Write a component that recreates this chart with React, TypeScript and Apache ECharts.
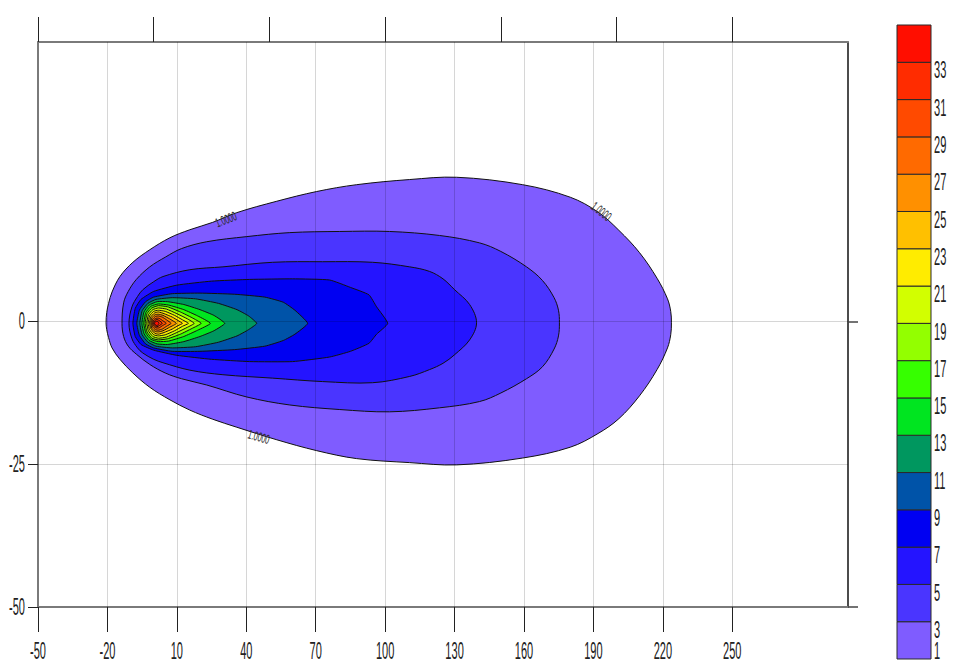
import React, { useEffect, useRef } from "react";
import * as echarts from "echarts";

// ---- axis / tick values ----
const xTickValues = [-50, -20, 10, 40, 70, 100, 130, 160, 190, 220, 250];
const topTickValues = [-50, 0, 50, 100, 150, 200, 250];
const yTickValues = [-50, -25, 0];
const rightTickValues = [-50, 0];
const xGridValues = [-20, 10, 40, 70, 100, 130, 160, 190, 220, 250];
const yGridValues = [-25, 0];

// ---- contour levels and band colours ----
const levels = [1, 3, 5, 7, 9, 11, 13, 15, 17, 19, 21, 23, 25, 27, 29, 31, 33];
const bandColors = [
  "#7f5cff", "#4a35ff", "#2414ff", "#0000f2", "#0053a8", "#00975f", "#00e520",
  "#36ff00", "#93ff00", "#d2ff00", "#ffec00", "#ffc000", "#ff9000", "#ff6a00",
  "#ff4a00", "#ff2c00", "#ff0e00",
];
const colorbarLabels = [1, 3, 5, 7, 9, 11, 13, 15, 17, 19, 21, 23, 25, 27, 29, 31, 33];

// ---- contour outlines: [x, upper y, lower y] ----
const contour01 = [
  [-20.6, -0.2, -0.2], [-20.3, 1.6, -1.4], [-19.5, 3.2, -2.8], [-18.0, 5.2, -4.6],
  [-14.6, 7.9, -6.6], [-9.0, 10.4, -9.0], [-1.7, 12.6, -11.5], [7.0, 14.7, -13.7],
  [15.6, 16.1, -15.5], [25.5, 17.4, -17.1], [35.9, 19.1, -18.5], [53.2, 21.1, -20.7],
  [70.4, 22.8, -22.6], [87.7, 24.0, -24.0], [110.6, 24.9, -24.7], [130.9, 25.3, -25.1],
  [159.4, 24.0, -23.9], [180.0, 21.8, -22.0], [192.0, 19.2, -19.6], [201.0, 16.0, -17.0],
  [209.9, 12.1, -13.0], [217.5, 7.6, -8.4], [222.0, 4.0, -4.6], [223.4, 1.8, -2.3],
  [223.7, -0.2, -0.2],
];
const contour03 = [
  [-13.7, -0.3, -0.3], [-13.0, 3.3, -2.6], [-11.0, 5.3, -4.3], [-7.5, 7.4, -5.7],
  [-1.7, 9.6, -7.5], [5.0, 11.3, -9.0], [12.0, 12.8, -10.0], [22.9, 14.0, -11.1],
  [40.2, 14.9, -13.2], [58.8, 15.6, -14.6], [80.4, 15.8, -15.4], [101.9, 15.8, -15.8],
  [123.5, 15.1, -15.1], [140.8, 13.8, -14.0], [150.0, 12.3, -12.5], [161.1, 9.6, -10.0],
  [168.0, 7.2, -7.9], [173.0, 4.2, -4.8], [174.9, 2.0, -2.5], [175.3, -0.2, -0.2],
];
const contour05 = [
  [-10.7, -0.3, -0.3], [-9.4, 2.6, -3.0], [-7.0, 4.4, -4.6], [-4.7, 5.6, -5.5],
  [0.0, 7.0, -6.6], [4.0, 7.9, -7.2], [15.6, 9.1, -8.5], [29.9, 9.6, -9.3],
  [51.4, 10.4, -9.9], [73.0, 10.5, -10.5], [94.6, 10.4, -10.7], [110.6, 9.6, -9.6],
  [119.2, 8.8, -8.4], [125.0, 7.5, -7.3], [130.0, 5.6, -5.8], [136.5, 3.0, -3.2],
  [139.5, -0.2, -0.2],
];
const contour07 = [
  [-9.0, -0.3, -0.3], [-8.0, 2.3, -2.6], [-5.5, 3.9, -4.0], [0.0, 5.3, -5.0],
  [10.0, 6.4, -5.9], [25.0, 7.1, -6.6], [41.5, 7.4, -7.0], [60.0, 7.5, -7.0],
  [76.0, 7.3, -6.2], [85.0, 6.0, -5.2], [93.0, 4.7, -3.8], [96.3, 2.6, -2.2],
  [101.1, -0.3, -0.3],
];
const contour09 = [
  [-7.3, -0.3, -0.3], [-6.2, 2.0, -2.4], [-3.5, 3.5, -3.9], [0.0, 4.3, -4.6],
  [8.0, 4.9, -5.2], [20.0, 5.0, -5.2], [35.0, 4.8, -4.9], [48.0, 4.3, -4.3],
  [56.0, 3.4, -3.3], [61.0, 2.0, -2.2], [66.5, -0.3, -0.3],
];
const contour11 = [
  [-6.0, -0.3, -0.3], [-5.0, 1.9, -2.3], [-2.5, 3.2, -3.6], [1.0, 3.9, -4.3],
  [8.0, 4.2, -4.6], [18.0, 4.0, -4.4], [28.0, 3.2, -3.6], [36.0, 2.1, -2.5],
  [41.0, 1.0, -1.4], [44.5, -0.3, -0.3],
];
const contour13 = [
  [-5.1, -0.3, -0.3], [-4.2, 1.7, -2.1], [-2.0, 2.9, -3.3], [1.5, 3.5, -3.9],
  [6.0, 3.5, -4.0], [13.0, 3.0, -3.5], [20.0, 2.1, -2.6], [26.0, 1.1, -1.6],
  [30.7, -0.3, -0.3],
];
const contour15 = [
  [-4.3, -0.3, -0.3], [-3.4, 1.6, -2.0], [-1.2, 2.7, -3.1], [2.0, 3.1, -3.5],
  [6.5, 2.9, -3.4], [13.0, 2.1, -2.6], [19.0, 1.0, -1.5], [24.5, -0.3, -0.3],
];
const contour17 = [
  [-3.7, -0.3, -0.3], [-2.9, 1.4, -1.8], [-0.8, 2.4, -2.9], [2.0, 2.8, -3.2],
  [6.0, 2.6, -3.0], [11.5, 1.7, -2.2], [16.5, 0.7, -1.2], [20.5, -0.3, -0.3],
];
const contour19 = [
  [-3.0, -0.3, -0.3], [-2.3, 1.2, -1.6], [-0.4, 2.1, -2.6], [2.0, 2.4, -2.9],
  [5.5, 2.2, -2.7], [10.0, 1.4, -1.9], [14.5, 0.5, -1.0], [17.5, -0.3, -0.3],
];
const contour21 = [
  [-2.4, -0.3, -0.3], [-1.8, 1.0, -1.4], [0.0, 1.8, -2.3], [2.0, 2.0, -2.5],
  [5.0, 1.8, -2.3], [9.0, 1.1, -1.6], [12.5, 0.3, -0.8], [15.0, -0.3, -0.3],
];
const contour23 = [
  [-1.8, -0.3, -0.3], [-1.3, 0.8, -1.2], [0.3, 1.5, -2.0], [2.0, 1.7, -2.2],
  [4.5, 1.4, -1.9], [8.0, 0.8, -1.3], [10.5, 0.2, -0.7], [12.4, -0.3, -0.3],
];
const contour25 = [
  [-1.3, -0.3, -0.3], [-0.9, 0.6, -1.1], [0.5, 1.2, -1.7], [2.0, 1.3, -1.8],
  [4.0, 1.1, -1.6], [6.8, 0.5, -1.0], [9.8, -0.3, -0.3],
];
const contour27 = [
  [-0.9, -0.3, -0.3], [-0.5, 0.4, -0.9], [0.7, 0.9, -1.4], [2.0, 1.0, -1.5],
  [3.7, 0.8, -1.3], [5.6, 0.3, -0.8], [7.5, -0.3, -0.3],
];
const contour29 = [
  [-0.5, -0.3, -0.3], [0.0, 0.3, -0.8], [1.0, 0.6, -1.1], [2.3, 0.6, -1.1],
  [3.8, 0.2, -0.7], [5.4, -0.3, -0.3],
];
const contour31 = [
  [-0.1, -0.3, -0.3], [0.5, 0.2, -0.7], [1.3, 0.4, -0.9], [2.4, 0.2, -0.7],
  [3.7, -0.3, -0.3],
];
const contour33 = [
  [0.3, -0.3, -0.3], [0.8, 0.0, -0.6], [1.5, 0.1, -0.7], [2.3, -0.3, -0.3],
];
const contours = [
  contour01, contour03, contour05, contour07, contour09, contour11, contour13,
  contour15, contour17, contour19, contour21, contour23, contour25, contour27,
  contour29, contour31, contour33,
];

// ---- contour labels: [x, y, rotation in degrees] ----
const contourLabelText = "1.0000";
const contourLabels = [
  [31.2, 17.9, 22],
  [193.4, 19.3, -38],
  [45.4, -20.2, -16],
];

const FONT = "'Liberation Sans', Arial, Helvetica, sans-serif";
const TICK_FONT_SIZE = 23;
const TICK_SCALE_X = 0.48;
const PAGE_HEIGHT = 666;

export default function App() {
  const ref = useRef<HTMLDivElement>(null);

  useEffect(() => {
    if (!ref.current) return;
    const chart = echarts.init(ref.current, undefined, { renderer: "svg" });

    const axisGray = { color: "#7a7a7a", width: 2 };
    const tickText = (text: string, x: number, y: number, align: string, vAlign: string) => ({
      type: "text",
      x,
      y,
      scaleX: TICK_SCALE_X,
      style: {
        text,
        fill: "#222",
        fontSize: TICK_FONT_SIZE,
        fontFamily: FONT,
        align,
        verticalAlign: vAlign,
      },
    });

    const option: any = {
      animation: false,
      backgroundColor: "#ffffff",
      textStyle: { fontFamily: FONT },
      grid: [
        { left: 38, top: 42, width: 810, height: 565 },
        { left: 897, top: 25, width: 34, height: 634 },
      ],
      xAxis: [
        {
          type: "value", gridIndex: 0, position: "bottom", min: -50, max: 300,
          axisLine: { show: true, onZero: false, lineStyle: axisGray },
          axisTick: { show: true, customValues: xTickValues, length: 25, lineStyle: { color: "#222", width: 1 } },
          axisLabel: { show: false },
          splitLine: { show: false },
        },
        {
          type: "value", gridIndex: 0, position: "top", min: -50, max: 300,
          axisLine: { show: true, onZero: false, lineStyle: axisGray },
          axisTick: { show: true, customValues: topTickValues, length: 25, lineStyle: { color: "#222", width: 1 } },
          axisLabel: { show: false },
          splitLine: { show: false },
        },
        {
          type: "value", gridIndex: 1, min: 0, max: 1, show: false,
        },
      ],
      yAxis: [
        {
          type: "value", gridIndex: 0, position: "left", min: -50, max: 49,
          axisLine: { show: true, onZero: false, lineStyle: axisGray },
          axisTick: { show: true, customValues: yTickValues, length: 10, lineStyle: { color: "#222", width: 1 } },
          axisLabel: { show: false },
          splitLine: { show: false },
        },
        {
          type: "value", gridIndex: 0, position: "right", min: -50, max: 49,
          axisLine: { show: true, onZero: false, lineStyle: { color: "#111", width: 1.5 } },
          axisTick: { show: true, customValues: rightTickValues, length: 10, lineStyle: { color: "#444", width: 1.5 } },
          axisLabel: { show: false },
          splitLine: { show: false },
        },
        {
          type: "value", gridIndex: 1, position: "right", min: 1, max: 35,
          axisLine: { show: false },
          axisTick: { show: false },
          axisLabel: { show: false },
          splitLine: { show: false },
        },
      ],
      series: [
        // filled contour bands
        {
          type: "custom",
          xAxisIndex: 0,
          yAxisIndex: 0,
          clip: true,
          silent: true,
          data: levels.map((lv, i) => [contours[i][0][0], 0, i, lv]),
          renderItem: (params: any, api: any) => {
            const i = api.value(2) as number;
            const pts = contours[i];
            const upper = pts.map((p) => api.coord([p[0], p[1]]));
            const lower = pts.slice(1, -1).reverse().map((p) => api.coord([p[0], p[2]]));
            return {
              type: "polygon",
              shape: { points: upper.concat(lower), smooth: i < 3 ? 0.35 : 0.15 },
              style: { fill: bandColors[i], stroke: "#111", lineWidth: 1 },
            };
          },
        },
        // contour labels + grid lines drawn over the bands
        {
          type: "custom",
          xAxisIndex: 0,
          yAxisIndex: 0,
          silent: true,
          data: contourLabels.map((l) => [l[0], l[1], l[2]]),
          renderItem: (params: any, api: any) => {
            const p = api.coord([api.value(0), api.value(1)]);
            return {
              type: "text",
              x: p[0],
              y: p[1],
              rotation: ((api.value(2) as number) * Math.PI) / 180,
              scaleX: 0.55,
              style: {
                text: contourLabelText,
                fill: "#2a2a2a",
                fontSize: 13,
                fontFamily: FONT,
                align: "center",
                verticalAlign: "middle",
              },
            };
          },
          markLine: {
            silent: true,
            symbol: ["none", "none"],
            label: { show: false },
            lineStyle: { color: "rgba(0,0,0,0.16)", width: 1, type: "solid" },
            emphasis: { disabled: true },
            data: [
              ...xGridValues.map((v) => ({ xAxis: v })),
              ...yGridValues.map((v) => ({ yAxis: v })),
            ],
          },
        },
        // bottom tick labels
        {
          type: "custom",
          xAxisIndex: 0,
          yAxisIndex: 0,
          clip: false,
          silent: true,
          data: xTickValues.map((v) => [v, -50]),
          renderItem: (params: any, api: any) => {
            const v = api.value(0) as number;
            const p = api.coord([v, -50]);
            return tickText(String(v), p[0], p[1] + 33, "center", "top");
          },
        },
        // left tick labels
        {
          type: "custom",
          xAxisIndex: 0,
          yAxisIndex: 0,
          clip: false,
          silent: true,
          data: yTickValues.map((v) => [-50, v]),
          renderItem: (params: any, api: any) => {
            const v = api.value(1) as number;
            const p = api.coord([-50, v]);
            return tickText(String(v), p[0] - 13, p[1], "right", "middle");
          },
        },
        // colour bar bands
        {
          type: "custom",
          xAxisIndex: 2,
          yAxisIndex: 2,
          silent: true,
          data: levels.map((lv, i) => [0, lv, i]),
          renderItem: (params: any, api: any) => {
            const lv = api.value(1) as number;
            const i = api.value(2) as number;
            const p0 = api.coord([0, lv + 2]);
            const p1 = api.coord([1, lv]);
            return {
              type: "rect",
              shape: { x: p0[0], y: p0[1], width: p1[0] - p0[0], height: p1[1] - p0[1] },
              style: { fill: bandColors[i], stroke: "#2a2a2a", lineWidth: 1 },
            };
          },
        },
        // colour bar labels (kept inside the page at the bottom edge)
        {
          type: "custom",
          xAxisIndex: 2,
          yAxisIndex: 2,
          clip: false,
          silent: true,
          data: colorbarLabels.map((v) => [1, v]),
          renderItem: (params: any, api: any) => {
            const v = api.value(1) as number;
            const p = api.coord([1, v]);
            const top = Math.min(p[1] - 3, PAGE_HEIGHT - TICK_FONT_SIZE - 3);
            return tickText(String(v), p[0] + 3, top, "left", "top");
          },
        },
      ],
    };

    chart.setOption(option);
    return () => chart.dispose();
  }, []);

  return (
    <div
      ref={ref}
      style={{ position: "absolute", left: 0, top: 0, width: 959, height: 666, background: "#fff" }}
    />
  );
}
